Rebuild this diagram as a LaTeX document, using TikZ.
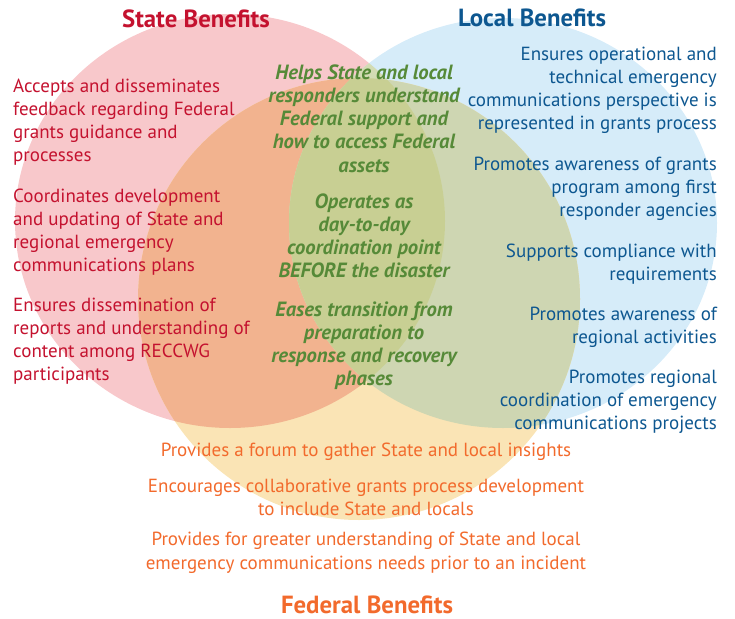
\documentclass[tikz,border=0pt]{standalone}
\usepackage{fontspec}
\setmainfont{PT Sans}
\definecolor{cState}{HTML}{F8C8CB}
\definecolor{cLocal}{HTML}{D6ECF9}
\definecolor{cFed}{HTML}{FAE4B5}
\definecolor{cSF}{HTML}{F2B38F}
\definecolor{cLF}{HTML}{CED6B2}
\definecolor{cSL}{HTML}{D3DCB4}
\definecolor{cSLF}{HTML}{C8CF93}
\definecolor{tState}{HTML}{C4122F}
\definecolor{tLocal}{HTML}{0D5790}
\definecolor{tGreen}{HTML}{568A38}
\definecolor{tFed}{HTML}{F26A2C}
\begin{document}
\begin{tikzpicture}[x=1pt,y=-1pt,
  stxt/.style={anchor=base west, inner sep=0pt, text=tState, font=\fontsize{19}{23}\selectfont},
  ltxt/.style={anchor=base east, inner sep=0pt, text=tLocal, font=\fontsize{19}{23}\selectfont},
  gtxt/.style={anchor=base, inner sep=0pt, text=tGreen, font=\fontsize{20.6}{23}\selectfont\bfseries\itshape},
  ftxt/.style={anchor=base, inner sep=0pt, text=tFed, font=\fontsize{19}{23}\selectfont},
  ttl/.style={anchor=base, inner sep=0pt, font=\fontsize{24.8}{28}\selectfont\bfseries}]
\useasboundingbox (0,0) rectangle (735,618);
% circles
\fill[cState] (230,221) ellipse [x radius=215, y radius=207];
\fill[cLocal] (503,223) ellipse [x radius=214, y radius=205];
\fill[cFed] (359,299) circle [radius=221];
\begin{scope}
  \clip (230,221) ellipse [x radius=215, y radius=207];
  \fill[cSF] (359,299) circle [radius=221];
\end{scope}
\begin{scope}
  \clip (503,223) ellipse [x radius=214, y radius=205];
  \fill[cLF] (359,299) circle [radius=221];
\end{scope}
\begin{scope}
  \clip (230,221) ellipse [x radius=215, y radius=207];
  \fill[cSL] (503,223) ellipse [x radius=214, y radius=205];
\end{scope}
\begin{scope}
  \clip (230,221) ellipse [x radius=215, y radius=207];
  \clip (503,223) ellipse [x radius=214, y radius=205];
  \fill[cSLF] (359,299) circle [radius=221];
\end{scope}
% titles
\node[ttl, text=tState] (stitle) at (196,28) {State Benefits};
\node[ttl, text=tLocal] (ltitle) at (532,27) {Local Benefits};
\node[ttl, text=tFed] (ftitle) at (367,613) {Federal Benefits};
% state text
\foreach \mytext [count=\i] in {Accepts and disseminates, feedback regarding Federal, grants guidance and, processes}
  \node[stxt] (sa\i) at (13,{92+(\i-1)*23}) {\mytext};
\foreach \mytext [count=\i] in {Coordinates development, and updating of State and, regional emergency, communications plans}
  \node[stxt] (sb\i) at (13,{202+(\i-1)*23}) {\mytext};
\foreach \mytext [count=\i] in {Ensures dissemination of, reports and understanding of, content among RECCWG, participants}
  \node[stxt] (sc\i) at (13,{311+(\i-1)*23}) {\mytext};
% local text
\foreach \mytext [count=\i] in {Ensures operational and, technical emergency, communications perspective is, represented in grants process}
  \node[ltxt] (la\i) at (717,{60+(\i-1)*23.3}) {\mytext};
\foreach \mytext [count=\i] in {Promotes awareness of grants, program among first, responder agencies}
  \node[ltxt] (lb\i) at (717,{170+(\i-1)*23.3}) {\mytext};
\foreach \mytext [count=\i] in {Supports compliance with, requirements}
  \node[ltxt] (lc\i) at (717,{257+(\i-1)*23.3}) {\mytext};
\foreach \mytext [count=\i] in {Promotes awareness of, regional activities}
  \node[ltxt] (ld\i) at (717,{320+(\i-1)*23.3}) {\mytext};
\foreach \mytext [count=\i] in {Promotes regional, coordination of emergency, communications projects}
  \node[ltxt] (le\i) at (717,{383+(\i-1)*23.3}) {\mytext};
% shared text
\foreach \mytext [count=\i] in {Helps State and local, responders understand, Federal support and, how to access Federal, assets}
  \node[gtxt] (ga\i) at (364,{79+(\i-1)*23.25}) {\mytext};
\foreach \mytext [count=\i] in {Operates as, day-to-day, coordination point, BEFORE the disaster}
  \node[gtxt] (gb\i) at (364,{208+(\i-1)*23.25}) {\mytext};
\foreach \mytext [count=\i] in {Eases transition from, preparation to, response and recovery, phases}
  \node[gtxt] (gc\i) at (364,{316+(\i-1)*23.25}) {\mytext};
% federal text
\node[ftxt] (fa1) at (366,456) {Provides a forum to gather State and local insights};
\node[ftxt] (fb1) at (366,492) {Encourages collaborative grants process development};
\node[ftxt] (fb2) at (366,515) {to include State and locals};
\node[ftxt] (fc1) at (366,545) {Provides for greater understanding of State and local};
\node[ftxt] (fc2) at (366,569) {emergency communications needs prior to an incident};
\end{tikzpicture}
\end{document}
